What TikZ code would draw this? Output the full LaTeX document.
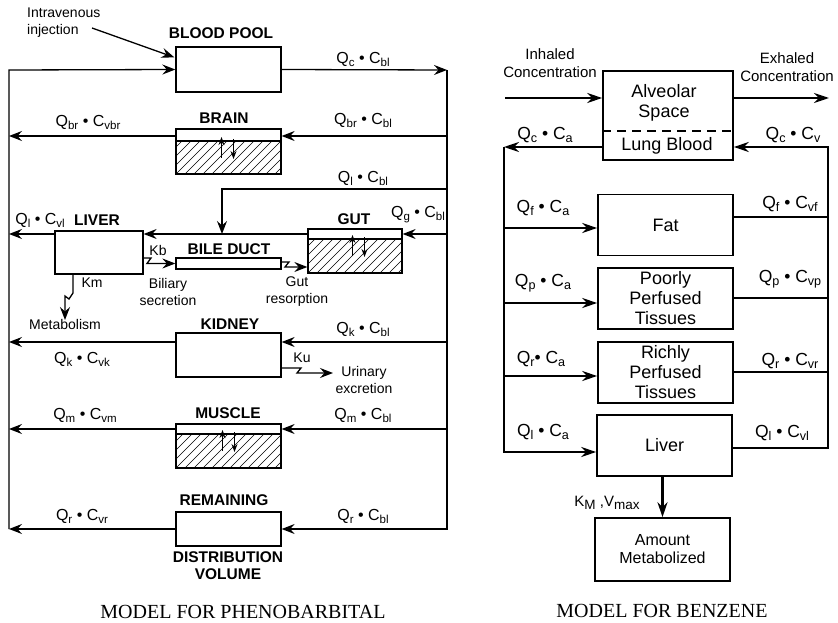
\documentclass[tikz,border=0pt]{standalone}
\usepackage{fontspec}
\setmainfont{Liberation Sans}
\newfontfamily\capfont{Liberation Serif}
\usetikzlibrary{arrows.meta,calc}
\newcommand\sbs[1]{\raisebox{-0.35ex}{\scalebox{0.72}{#1}}}
\newcommand\qlbl[2]{Q\sbs{#1} \textbullet{} C\sbs{#2}}
\newcommand\hatchreg[4]{%
  \begin{scope}
    \clip (#1,#2) rectangle (#3,#4);
    \foreach \hk in {-45,-36,...,120} {\draw[line width=0.6pt] ({#1+\hk},#4) -- ++(50,-50);}
  \end{scope}}
\newcommand\exch[2]{%
  \draw[exarr] ({#1-6},{#2+17}) -- ({#1-6},{#2-4});
  \draw[exarr] ({#1+6},{#2-2}) -- ({#1+6},{#2+18});}
\begin{document}
\begin{tikzpicture}[x=1pt,y=-1pt,
  lbox/.style={draw, line width=1.3pt, minimum width=105pt, inner sep=0pt},
  rbox/.style={draw, line width=1.6pt, minimum width=135pt, minimum height=61pt, inner sep=0pt, align=center, font=\fontsize{18}{20}\selectfont},
  lline/.style={line width=1.3pt},
  larr/.style={lline, -{Stealth[length=13pt,width=10pt,inset=4.5pt]}},
  rline/.style={line width=2.2pt},
  rarr/.style={rline, -{Stealth[length=15pt,width=10pt,inset=5pt]}},
  exarr/.style={line width=1.1pt, -{Stealth[length=8pt,width=6pt]}},
  ltxt/.style={inner sep=0pt, font=\fontsize{16}{18}\selectfont},
  lbold/.style={inner sep=0pt, align=center, font=\fontsize{15.5}{17}\selectfont\bfseries},
  lsm/.style={inner sep=0pt, align=center, font=\fontsize{14}{17}\selectfont},
  rtxt/.style={inner sep=0pt, align=center, font=\fontsize{18}{20}\selectfont},
  rsm/.style={inner sep=0pt, align=center, font=\fontsize{15}{18}\selectfont},
  rq/.style={inner sep=0pt, font=\fontsize{17.5}{20}\selectfont},
  captxt/.style={inner sep=0pt, font=\capfont\fontsize{20}{22}\selectfont}]
\useasboundingbox (0,0) rectangle (838,623);

% ---------------- LEFT: PHENOBARBITAL ----------------
% hatching
\hatchreg{176}{141}{281}{174}
\hatchreg{308}{239}{402}{273}
\hatchreg{176}{434}{281}{468}

\node[lbox, minimum height=45pt] (bp) at (228.5,69.5) {};
\node[lbox, minimum height=45pt] (brain) at (228.5,151.5) {};
\node[lbox, minimum width=88pt, minimum height=43pt] (liv) at (99,252.5) {};
\node[lbox, minimum width=94pt, minimum height=44pt] (gut) at (355,251) {};
\node[lbox, minimum height=11pt] (bile) at (228.5,263.5) {};
\node[lbox, minimum height=44pt] (kid) at (228.5,355) {};
\node[lbox, minimum height=44pt] (mus) at (228.5,446) {};
\node[lbox, minimum height=34pt] (rem) at (228.5,529) {};

% dividers
\draw[lline] (176,141) -- (281,141);
\draw[lline] (308,239) -- (402,239);
\draw[lline] (176,434) -- (281,434);

% exchange arrows
\exch{227.5}{141}
\exch{358.5}{239}
\exch{228.5}{434}

% frame
\coordinate (R0) at (447,70);
\coordinate (R6) at (447,529);
\coordinate (L0) at (9,70);
\coordinate (L6) at (9,529);
\draw[larr] (bp.east) -- (R0);
\draw[larr] (R0) -- (R6) -- (rem.east);
\draw[larr] (rem.west) -- (L6);
\draw[larr] (L6) -- (L0) -- (bp.west);

% brain
\coordinate (Rb) at (447,136);
\draw[larr] (Rb) -- (brain.east |- Rb);
\draw[larr] (brain.west |- Rb) -- (L0 |- Rb);
% liver / gut
\coordinate (Rg) at (447,234);
\draw[larr] (Rg) -- (gut.east |- Rg);
\draw[larr] (gut.west |- Rg) -- (liv.east |- Rg);
\draw[larr] (liv.west |- Rg) -- (L0 |- Rg);
\coordinate (Rl) at (447,189);
\coordinate (Tl) at (222,189);
\draw[larr] (Rl) -- (Tl) -- (Tl |- Rg);
% kidney
\coordinate (Rk) at (447,342);
\draw[larr] (Rk) -- (kid.east |- Rk);
\draw[larr] (kid.west |- Rk) -- (L0 |- Rk);
% muscle
\coordinate (Rm) at (447,429);
\draw[larr] (Rm) -- (mus.east |- Rm);
\draw[larr] (mus.west |- Rm) -- (L0 |- Rm);

% zigzag transfers
\coordinate (kbA) at (143,258);
\draw[larr] (kbA) -- (151,258) -- (147,263.5) -- (158,263.5) -- (bile.west);
\coordinate (grA) at (281,262);
\draw[larr] (grA) -- (289,262) -- (285,267) -- (295,267) -- (gut.west |- 0,267);
\coordinate (kuA) at (281,368);
\coordinate (kuB) at (333,373);
\draw[larr] (kuA) -- (301,368) -- (297,373) -- (310,373) -- (kuB);
\coordinate (kmA) at (73,274);
\coordinate (kmB) at (65,320);
\draw[larr] (kmA) -- (73,293) -- (69,299) -- (65,296) -- (kmB);

% intravenous injection
\node[lsm, align=left, anchor=west] (iv) at (27,23) {Intravenous\\injection};
\coordinate (ivA) at (92,28);
\draw[larr] (ivA) -- ($(bp.north west)+(-1,11)$);

% labels left
\node[lbold] (t1) at (221,33) {BLOOD POOL};
\node[ltxt] (q1) at (363,59) {\qlbl{c}{bl}};
\node[lbold] (t2) at (224,118) {BRAIN};
\node[ltxt] (q2) at (88,122) {\qlbl{br}{vbr}};
\node[ltxt] (q3) at (363,120) {\qlbl{br}{bl}};
\node[ltxt] (q4) at (363,178) {\qlbl{l}{bl}};
\node[ltxt] (q5) at (40,220) {\qlbl{l}{vl}};
\node[lbold] (t3) at (97,220) {LIVER};
\node[lbold] (t4) at (354,219) {GUT};
\node[ltxt] (q6) at (418,215) {\qlbl{g}{bl}};
\node[lbold] (t5) at (229,249) {BILE DUCT};
\node[lsm] (kb) at (158,250) {Kb};
\node[lsm] (bs) at (168,292) {Biliary\\secretion};
\node[lsm] (gr) at (297,292) {Gut\\resorption};
\node[lsm] (km) at (92,283) {Km};
\node[lsm] (met) at (65,324) {Metabolism};
\node[lbold] (t6) at (230,324) {KIDNEY};
\node[ltxt] (q7) at (363,329) {\qlbl{k}{bl}};
\node[ltxt] (q8) at (82,359) {\qlbl{k}{vk}};
\node[lsm] (ku) at (302,358) {Ku};
\node[lsm] (ue) at (364,380) {Urinary\\excretion};
\node[lbold] (t7) at (228,413) {MUSCLE};
\node[ltxt] (q9) at (85,415) {\qlbl{m}{vm}};
\node[ltxt] (q10) at (363,415) {\qlbl{m}{bl}};
\node[lbold] (t8) at (224,500) {REMAINING};
\node[ltxt] (q11) at (82,516) {\qlbl{r}{vr}};
\node[ltxt] (q12) at (363,516) {\qlbl{r}{bl}};
\node[lbold] (t9) at (228,566) {DISTRIBUTION\\VOLUME};
\node[captxt] (c1) at (243,612) {MODEL FOR PHENOBARBITAL};

% ---------------- RIGHT: BENZENE ----------------
\node[rbox, minimum width=130pt, minimum height=89pt] (alv) at (668,115.5) {};
\draw[line width=1.3pt, dash pattern=on 9pt off 6pt] (alv.west |- 0,131) -- (alv.east |- 0,131);
\node[rtxt] (alvt) at (664,103) {Alveolar\\Space};
\node[rtxt] (lbt) at (667,146) {Lung Blood};
\node[rbox] (fat) at (665.5,225) {Fat};
\node[rbox] (poor) at (665.5,298.5) {Poorly\\Perfused\\Tissues};
\node[rbox] (rich) at (665.5,372.5) {Richly\\Perfused\\Tissues};
\node[rbox] (rliv) at (664.5,445.5) {Liver};
\node[rbox, minimum height=63pt, font=\fontsize{16}{18}\selectfont] (amt) at (662.5,549.5) {Amount\\Metabolized};

\coordinate (inh) at (505,98);
\coordinate (exh) at (829,98);
\draw[rarr] (inh) -- (alv.west |- inh);
\draw[rarr] (alv.east |- exh) -- (exh);

\coordinate (RL0) at (504,147);
\coordinate (RL4) at (504,452);
\coordinate (RR0) at (828,147);
\coordinate (RR4) at (828,448);
\draw[rarr] (alv.west |- RL0) -- (RL0);
\draw[rarr] (RL0) -- (RL4) -- (rliv.west |- RL4);
\draw[rarr] (RL0 |- 0,228) -- (fat.west |- 0,228);
\draw[rarr] (RL0 |- 0,303) -- (poor.west |- 0,303);
\draw[rarr] (RL0 |- 0,376) -- (rich.west |- 0,376);
\draw[rarr] (rliv.east |- RR4) -- (RR4) -- (RR0) -- (alv.east |- RR0);
\draw[rline] (fat.east |- 0,217) -- (RR0 |- 0,217);
\draw[rline] (poor.east |- 0,298) -- (RR0 |- 0,298);
\draw[rline] (rich.east |- 0,372) -- (RR0 |- 0,372);
\draw[rarr] (rliv.south -| amt.north) -- (amt.north);

\node[rsm] (inl) at (550,63) {Inhaled\\Concentration};
\node[rsm] (exl) at (787,67) {Exhaled\\Concentration};
\node[rq] (r1) at (545,135) {\qlbl{c}{a}};
\node[rq] (r2) at (793,135) {\qlbl{c}{v}};
\node[rq] (r3) at (543,208) {\qlbl{f}{a}};
\node[rq] (r4) at (790,204) {\qlbl{f}{vf}};
\node[rq] (r5) at (543,283) {\qlbl{p}{a}};
\node[rq] (r6) at (790,279) {\qlbl{p}{vp}};
\node[rq] (r7) at (541,359) {Q\sbs{r}\textbullet{} C\sbs{a}};
\node[rq] (r8) at (790,361) {\qlbl{r}{vr}};
\node[rq] (r9) at (543,432) {\qlbl{l}{a}};
\node[rq] (r10) at (782,433) {\qlbl{l}{vl}};
\node[inner sep=0pt, font=\fontsize{15}{18}\selectfont] (km2) at (607,503) {K\raisebox{-0.35ex}{\scalebox{0.9}{M}} ,V\raisebox{-0.35ex}{\scalebox{0.9}{max}}};
\node[captxt] (c2) at (662,611) {MODEL FOR BENZENE};
\end{tikzpicture}
\end{document}
